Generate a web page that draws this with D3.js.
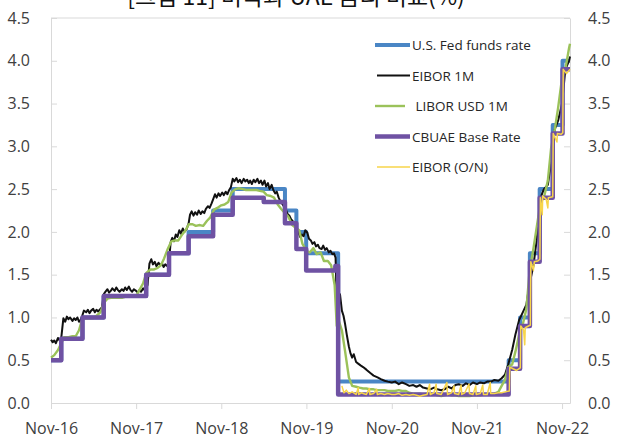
<!DOCTYPE html>
<html>
<head>
<meta charset="utf-8">
<script src="https://cdn.jsdelivr.net/npm/d3@7"></script>
<style>
  body { margin: 0; background: #fff; }
  svg { display: block; }
  .axis text { font-family: "Open Sans", "Noto Sans", sans-serif; font-size: 16px; fill: #404040; }
  .axis line, .axis path { stroke: #d9d9d9; }
</style>
</head>
<body>
<div id="chart"></div>
<script>
// Chart title (cut off at the top in the source picture)
var title = "[그림 11] 미국과 UAE 금리 비교(%)";

// Axis ticks
var yTicks = [0, 0.5, 1, 1.5, 2, 2.5, 3, 3.5, 4, 4.5];
var xTicks = ["2016-11-01", "2017-11-01", "2018-11-01", "2019-11-01", "2020-11-01", "2021-11-01", "2022-11-01"];

// Series names, in legend order
var seriesNames = ["U.S. Fed funds rate", "EIBOR 1M", " LIBOR USD 1M", "CBUAE Base Rate", "EIBOR (O/N)"];

// U.S. Fed funds rate (upper bound), step changes
var fedFunds = [
  ["2016-11-01", 0.50], ["2016-12-15", 0.75], ["2017-03-16", 1.00], ["2017-06-15", 1.25],
  ["2017-12-14", 1.50], ["2018-03-22", 1.75], ["2018-06-14", 2.00], ["2018-09-27", 2.25],
  ["2018-12-20", 2.50], ["2019-08-01", 2.25], ["2019-09-19", 2.00], ["2019-10-31", 1.75],
  ["2020-03-16", 0.25], ["2022-03-17", 0.50], ["2022-05-05", 1.00], ["2022-06-16", 1.75],
  ["2022-07-28", 2.50], ["2022-09-22", 3.25], ["2022-11-03", 4.00], ["2022-12-05", 4.00]
];

// CBUAE base rate, step changes
var cbuaeBase = [
  ["2016-11-01", 0.50], ["2016-12-15", 0.75], ["2017-03-16", 1.00], ["2017-06-15", 1.25],
  ["2017-12-14", 1.50], ["2018-03-22", 1.75], ["2018-06-14", 1.95], ["2018-09-27", 2.20],
  ["2018-12-20", 2.40], ["2019-05-02", 2.35], ["2019-08-01", 2.10], ["2019-09-19", 1.80],
  ["2019-10-31", 1.55], ["2020-03-04", 1.60], ["2020-03-16", 0.10], ["2022-03-17", 0.40],
  ["2022-05-05", 0.90], ["2022-06-16", 1.65], ["2022-07-28", 2.40], ["2022-09-22", 3.15],
  ["2022-11-03", 3.90], ["2022-12-05", 3.90]
];

// EIBOR 1M
var eibor1m = [
  ["2016-11-01", 0.74], ["2016-11-08", 0.71], ["2016-11-15", 0.73], ["2016-11-22", 0.70], ["2016-12-01", 0.76],
  ["2016-12-08", 0.73], ["2016-12-15", 0.76], ["2016-12-24", 0.99], ["2017-01-01", 0.95], ["2017-01-08", 1.01],
  ["2017-01-15", 0.98], ["2017-01-22", 1.00], ["2017-02-01", 0.96], ["2017-02-08", 0.99], ["2017-02-15", 0.97],
  ["2017-02-22", 1.00], ["2017-03-01", 0.95], ["2017-03-08", 0.97], ["2017-03-15", 1.02], ["2017-03-22", 1.08],
  ["2017-04-01", 1.06], ["2017-04-08", 1.09], ["2017-04-15", 1.05], ["2017-04-22", 1.08], ["2017-05-01", 1.10],
  ["2017-05-08", 1.06], ["2017-05-15", 1.09], ["2017-05-22", 1.07], ["2017-06-01", 1.10], ["2017-06-08", 1.12],
  ["2017-06-15", 1.27], ["2017-06-22", 1.30], ["2017-07-01", 1.33], ["2017-07-08", 1.29], ["2017-07-15", 1.31],
  ["2017-07-22", 1.34], ["2017-08-01", 1.31], ["2017-08-08", 1.35], ["2017-08-15", 1.32], ["2017-08-22", 1.30],
  ["2017-09-01", 1.33], ["2017-09-08", 1.31], ["2017-09-15", 1.35], ["2017-09-22", 1.32], ["2017-10-01", 1.36],
  ["2017-10-08", 1.32], ["2017-10-15", 1.30], ["2017-10-22", 1.33], ["2017-11-01", 1.31], ["2017-11-08", 1.29],
  ["2017-11-15", 1.32], ["2017-11-22", 1.30], ["2017-12-01", 1.34], ["2017-12-10", 1.31], ["2017-12-20", 1.38],
  ["2017-12-28", 1.63], ["2018-01-05", 1.68], ["2018-01-12", 1.62], ["2018-01-20", 1.65], ["2018-01-27", 1.60],
  ["2018-02-05", 1.64], ["2018-02-12", 1.61], ["2018-02-20", 1.63], ["2018-02-27", 1.59], ["2018-03-06", 1.62],
  ["2018-03-14", 1.60], ["2018-03-22", 1.66], ["2018-03-29", 1.88], ["2018-04-05", 1.93], ["2018-04-12", 1.89],
  ["2018-04-20", 1.97], ["2018-04-27", 1.94], ["2018-05-05", 2.02], ["2018-05-12", 1.98], ["2018-05-20", 2.04],
  ["2018-05-27", 2.00], ["2018-06-05", 2.03], ["2018-06-14", 2.10], ["2018-06-20", 2.20], ["2018-06-27", 2.24],
  ["2018-07-05", 2.19], ["2018-07-12", 2.23], ["2018-07-20", 2.20], ["2018-07-27", 2.25], ["2018-08-05", 2.21],
  ["2018-08-12", 2.24], ["2018-08-20", 2.22], ["2018-08-27", 2.27], ["2018-09-05", 2.30], ["2018-09-12", 2.28],
  ["2018-09-20", 2.33], ["2018-09-27", 2.38], ["2018-10-05", 2.44], ["2018-10-12", 2.40], ["2018-10-20", 2.45],
  ["2018-10-27", 2.42], ["2018-11-05", 2.46], ["2018-11-12", 2.43], ["2018-11-20", 2.47], ["2018-11-27", 2.44],
  ["2018-12-05", 2.49], ["2018-12-12", 2.52], ["2018-12-20", 2.62], ["2018-12-27", 2.59], ["2019-01-05", 2.63],
  ["2019-01-12", 2.58], ["2019-01-20", 2.61], ["2019-01-27", 2.57], ["2019-02-05", 2.62], ["2019-02-12", 2.59],
  ["2019-02-20", 2.61], ["2019-02-27", 2.57], ["2019-03-05", 2.60], ["2019-03-12", 2.56], ["2019-03-20", 2.61],
  ["2019-03-27", 2.58], ["2019-04-05", 2.62], ["2019-04-12", 2.57], ["2019-04-20", 2.60], ["2019-04-27", 2.55],
  ["2019-05-05", 2.60], ["2019-05-12", 2.53], ["2019-05-20", 2.57], ["2019-05-27", 2.50], ["2019-06-05", 2.55],
  ["2019-06-12", 2.49], ["2019-06-20", 2.45], ["2019-06-27", 2.47], ["2019-07-05", 2.40], ["2019-07-12", 2.36],
  ["2019-07-20", 2.33], ["2019-07-27", 2.30], ["2019-08-05", 2.26], ["2019-08-12", 2.21], ["2019-08-20", 2.19],
  ["2019-08-27", 2.15], ["2019-09-05", 2.12], ["2019-09-12", 2.08], ["2019-09-20", 2.06], ["2019-09-27", 2.00],
  ["2019-10-05", 1.94], ["2019-10-12", 1.97], ["2019-10-20", 1.95], ["2019-10-27", 2.02], ["2019-11-05", 1.99],
  ["2019-11-12", 1.92], ["2019-11-20", 1.90], ["2019-11-27", 1.86], ["2019-12-05", 1.88], ["2019-12-12", 1.83],
  ["2019-12-20", 1.85], ["2019-12-27", 1.81], ["2020-01-05", 1.80], ["2020-01-12", 1.84], ["2020-01-20", 1.79],
  ["2020-01-27", 1.81], ["2020-02-05", 1.76], ["2020-02-12", 1.78], ["2020-02-20", 1.74], ["2020-02-27", 1.75],
  ["2020-03-05", 1.70], ["2020-03-10", 1.14], ["2020-03-16", 1.10], ["2020-03-24", 1.27], ["2020-04-01", 1.08],
  ["2020-04-08", 1.02], ["2020-04-15", 0.92], ["2020-04-22", 0.80], ["2020-05-01", 0.66], ["2020-05-08", 0.58],
  ["2020-05-15", 0.53], ["2020-05-22", 0.57], ["2020-06-01", 0.48], ["2020-06-10", 0.46], ["2020-06-20", 0.44],
  ["2020-07-01", 0.42], ["2020-07-15", 0.39], ["2020-08-01", 0.35], ["2020-08-15", 0.32], ["2020-09-01", 0.30],
  ["2020-09-15", 0.28], ["2020-10-01", 0.26], ["2020-10-15", 0.25], ["2020-11-01", 0.24], ["2020-11-15", 0.25],
  ["2020-12-01", 0.22], ["2020-12-15", 0.24], ["2021-01-01", 0.22], ["2021-01-15", 0.20], ["2021-02-01", 0.21],
  ["2021-02-15", 0.19], ["2021-03-01", 0.21], ["2021-03-15", 0.18], ["2021-04-01", 0.17], ["2021-04-15", 0.16],
  ["2021-05-01", 0.18], ["2021-05-15", 0.16], ["2021-06-01", 0.15], ["2021-06-15", 0.16], ["2021-07-01", 0.19],
  ["2021-07-15", 0.17], ["2021-08-01", 0.21], ["2021-08-15", 0.22], ["2021-09-01", 0.20], ["2021-09-15", 0.23],
  ["2021-10-01", 0.21], ["2021-10-15", 0.24], ["2021-11-01", 0.22], ["2021-11-15", 0.24], ["2021-12-01", 0.23],
  ["2021-12-15", 0.25], ["2022-01-01", 0.25], ["2022-01-15", 0.27], ["2022-02-01", 0.26], ["2022-02-15", 0.29],
  ["2022-03-01", 0.33], ["2022-03-15", 0.45], ["2022-04-01", 0.62], ["2022-04-15", 0.80], ["2022-05-01", 0.97],
  ["2022-05-15", 1.05], ["2022-06-01", 1.15], ["2022-06-15", 1.40], ["2022-07-01", 1.60], ["2022-07-15", 1.90],
  ["2022-08-01", 2.40], ["2022-08-15", 2.50], ["2022-09-01", 2.55], ["2022-09-15", 2.80], ["2022-10-01", 3.20],
  ["2022-10-15", 3.30], ["2022-11-01", 3.50], ["2022-11-15", 3.90], ["2022-12-01", 4.00], ["2022-12-05", 4.05]
];

// LIBOR USD 1M
var libor1m = [
  ["2016-11-01", 0.53], ["2016-11-15", 0.56], ["2016-12-01", 0.62], ["2016-12-15", 0.70], ["2016-12-28", 0.77],
  ["2017-01-15", 0.77], ["2017-02-01", 0.78], ["2017-02-15", 0.78], ["2017-03-01", 0.85], ["2017-03-15", 0.98],
  ["2017-04-01", 0.99], ["2017-04-15", 0.99], ["2017-05-01", 0.99], ["2017-05-15", 1.02], ["2017-06-01", 1.06],
  ["2017-06-15", 1.17], ["2017-07-01", 1.22], ["2017-07-15", 1.23], ["2017-08-01", 1.23], ["2017-08-15", 1.23],
  ["2017-09-01", 1.23], ["2017-09-15", 1.24], ["2017-10-01", 1.24], ["2017-10-15", 1.24], ["2017-11-01", 1.25],
  ["2017-11-15", 1.32], ["2017-12-01", 1.40], ["2017-12-15", 1.52], ["2018-01-01", 1.56], ["2018-01-15", 1.56],
  ["2018-02-01", 1.58], ["2018-02-15", 1.61], ["2018-03-01", 1.69], ["2018-03-15", 1.79], ["2018-04-01", 1.89],
  ["2018-04-15", 1.90], ["2018-05-01", 1.90], ["2018-05-15", 1.96], ["2018-06-01", 2.02], ["2018-06-15", 2.09],
  ["2018-07-01", 2.09], ["2018-07-15", 2.07], ["2018-08-01", 2.08], ["2018-08-15", 2.07], ["2018-09-01", 2.13],
  ["2018-09-15", 2.17], ["2018-10-01", 2.26], ["2018-10-15", 2.28], ["2018-11-01", 2.31], ["2018-11-15", 2.32],
  ["2018-12-01", 2.35], ["2018-12-15", 2.46], ["2019-01-01", 2.50], ["2019-01-15", 2.51], ["2019-02-01", 2.50],
  ["2019-02-15", 2.49], ["2019-03-01", 2.49], ["2019-03-15", 2.49], ["2019-04-01", 2.49], ["2019-04-15", 2.48],
  ["2019-05-01", 2.47], ["2019-05-15", 2.43], ["2019-06-01", 2.42], ["2019-06-15", 2.40], ["2019-07-01", 2.32],
  ["2019-07-15", 2.27], ["2019-08-01", 2.22], ["2019-08-15", 2.18], ["2019-09-01", 2.08], ["2019-09-15", 2.05],
  ["2019-10-01", 2.02], ["2019-10-15", 1.86], ["2019-11-01", 1.78], ["2019-11-15", 1.76], ["2019-12-01", 1.81],
  ["2019-12-15", 1.74], ["2020-01-01", 1.76], ["2020-01-15", 1.66], ["2020-02-01", 1.66], ["2020-02-15", 1.61],
  ["2020-03-01", 1.38], ["2020-03-10", 0.90], ["2020-03-20", 0.95], ["2020-04-01", 0.85], ["2020-04-15", 0.60],
  ["2020-05-01", 0.30], ["2020-05-15", 0.20], ["2020-06-01", 0.19], ["2020-06-15", 0.18], ["2020-07-01", 0.17],
  ["2020-07-15", 0.17], ["2020-08-01", 0.16], ["2020-08-15", 0.16], ["2020-09-01", 0.15], ["2020-09-15", 0.15],
  ["2020-10-01", 0.15], ["2020-10-15", 0.14], ["2020-11-01", 0.14], ["2020-11-15", 0.14], ["2020-12-01", 0.15],
  ["2020-12-15", 0.14], ["2021-01-01", 0.14], ["2021-01-15", 0.12], ["2021-02-01", 0.11], ["2021-02-15", 0.11],
  ["2021-03-01", 0.11], ["2021-03-15", 0.10], ["2021-04-01", 0.11], ["2021-04-15", 0.11], ["2021-05-01", 0.10],
  ["2021-05-15", 0.09], ["2021-06-01", 0.08], ["2021-06-15", 0.09], ["2021-07-01", 0.10], ["2021-07-15", 0.09],
  ["2021-08-01", 0.09], ["2021-08-15", 0.08], ["2021-09-01", 0.08], ["2021-09-15", 0.08], ["2021-10-01", 0.08],
  ["2021-10-15", 0.09], ["2021-11-01", 0.09], ["2021-11-15", 0.09], ["2021-12-01", 0.10], ["2021-12-15", 0.10],
  ["2022-01-01", 0.10], ["2022-01-15", 0.11], ["2022-02-01", 0.13], ["2022-02-15", 0.20], ["2022-03-01", 0.27],
  ["2022-03-15", 0.42], ["2022-04-01", 0.45], ["2022-04-15", 0.60], ["2022-05-01", 0.80], ["2022-05-15", 0.90],
  ["2022-06-01", 1.10], ["2022-06-15", 1.55], ["2022-07-01", 1.80], ["2022-07-15", 2.05], ["2022-08-01", 2.35],
  ["2022-08-15", 2.40], ["2022-09-01", 2.60], ["2022-09-15", 2.98], ["2022-10-01", 3.20], ["2022-10-15", 3.45],
  ["2022-11-01", 3.80], ["2022-11-15", 3.90], ["2022-12-01", 4.15], ["2022-12-05", 4.20]
];

// EIBOR overnight
var eiborON = [
  ["2020-04-01", 0.20], ["2020-04-10", 0.12], ["2020-04-20", 0.15], ["2020-05-01", 0.11], ["2020-05-15", 0.13],
  ["2020-06-01", 0.10], ["2020-06-10", 0.18], ["2020-06-12", 0.10], ["2020-06-25", 0.12], ["2020-07-01", 0.11],
  ["2020-07-15", 0.10], ["2020-07-28", 0.17], ["2020-07-30", 0.10], ["2020-08-15", 0.11], ["2020-08-28", 0.16],
  ["2020-08-31", 0.10], ["2020-09-15", 0.11], ["2020-10-01", 0.10], ["2020-10-15", 0.11], ["2020-11-01", 0.10],
  ["2020-11-15", 0.10], ["2020-12-01", 0.11], ["2020-12-15", 0.09], ["2021-01-01", 0.10], ["2021-01-15", 0.09],
  ["2021-02-01", 0.10], ["2021-02-15", 0.09], ["2021-03-01", 0.08], ["2021-03-15", 0.09], ["2021-04-01", 0.10],
  ["2021-04-12", 0.22], ["2021-04-15", 0.10], ["2021-05-01", 0.12], ["2021-05-10", 0.22], ["2021-05-13", 0.11],
  ["2021-06-01", 0.10], ["2021-06-25", 0.24], ["2021-06-28", 0.10], ["2021-07-15", 0.12], ["2021-07-26", 0.20],
  ["2021-07-28", 0.11], ["2021-08-15", 0.10], ["2021-08-25", 0.21], ["2021-08-28", 0.10], ["2021-09-10", 0.12],
  ["2021-09-28", 0.22], ["2021-09-30", 0.11], ["2021-10-15", 0.10], ["2021-10-27", 0.20], ["2021-10-29", 0.10],
  ["2021-11-15", 0.11], ["2021-11-26", 0.21], ["2021-11-29", 0.10], ["2021-12-15", 0.10], ["2021-12-28", 0.24],
  ["2021-12-30", 0.11], ["2022-01-15", 0.11], ["2022-02-01", 0.12], ["2022-02-15", 0.12], ["2022-03-01", 0.13],
  ["2022-03-20", 0.14], ["2022-03-22", 0.42], ["2022-04-05", 0.40], ["2022-04-20", 0.38], ["2022-05-06", 0.41],
  ["2022-05-08", 0.90], ["2022-05-20", 0.85], ["2022-05-25", 0.68], ["2022-05-27", 0.88], ["2022-06-10", 0.90],
  ["2022-06-18", 0.91], ["2022-06-20", 1.65], ["2022-07-01", 1.55], ["2022-07-05", 1.65], ["2022-07-20", 1.66],
  ["2022-07-29", 1.68], ["2022-07-31", 2.40], ["2022-08-08", 2.20], ["2022-08-10", 2.42], ["2022-08-25", 2.38],
  ["2022-09-01", 2.28], ["2022-09-03", 2.40], ["2022-09-22", 2.41], ["2022-09-24", 3.15], ["2022-10-10", 3.05],
  ["2022-10-12", 3.15], ["2022-10-28", 3.14], ["2022-11-04", 3.16], ["2022-11-06", 3.90], ["2022-11-20", 3.85],
  ["2022-12-05", 3.90]
];

var W = 617, H = 439;
var margin = {top: 18, right: 47, bottom: 36, left: 51};
var parse = d3.timeParse("%Y-%m-%d");

var svg = d3.select("#chart").append("svg")
  .attr("width", W)
  .attr("height", H);

// Title, only its lower edge shows in the source
svg.append("text")
  .attr("x", 296)
  .attr("y", 5)
  .attr("text-anchor", "middle")
  .style("font-family", "'Noto Sans CJK KR', sans-serif")
  .style("font-size", "23px")
  .style("fill", "#111")
  .text(title);

var x = d3.scaleTime()
  .domain([parse("2016-11-01"), parse("2022-12-05")])
  .range([margin.left, W - margin.right]);

var y = d3.scaleLinear()
  .domain([0, 4.5])
  .range([H - margin.bottom, margin.top]);

// Frame: top line
svg.append("line")
  .attr("x1", margin.left).attr("x2", W - margin.right)
  .attr("y1", margin.top).attr("y2", margin.top)
  .attr("stroke", "#d9d9d9");

// Axes
svg.append("g")
  .attr("class", "axis")
  .attr("transform", "translate(" + margin.left + ",0)")
  .call(d3.axisLeft(y).tickValues(yTicks).tickFormat(d3.format(".1f")).tickSize(-6).tickSizeOuter(0).tickPadding(21));

svg.append("g")
  .attr("class", "axis")
  .attr("transform", "translate(" + (W - margin.right) + ",0)")
  .call(d3.axisRight(y).tickValues(yTicks).tickFormat(d3.format(".1f")).tickSize(-6).tickSizeOuter(0).tickPadding(18));

svg.append("g")
  .attr("class", "axis")
  .attr("transform", "translate(0," + (H - margin.bottom) + ")")
  .call(d3.axisBottom(x).tickValues(xTicks.map(parse)).tickFormat(d3.timeFormat("%b-%y")).tickSize(6).tickSizeOuter(0).tickPadding(14));

var line = d3.line()
  .x(function(d) { return x(parse(d[0])); })
  .y(function(d) { return y(d[1]); });

var stepLine = d3.line()
  .curve(d3.curveStepAfter)
  .x(function(d) { return x(parse(d[0])); })
  .y(function(d) { return y(d[1]); });

var series = [
  {data: fedFunds, gen: stepLine, color: "#4a86c5", width: 4},
  {data: eibor1m, gen: line, color: "#111111", width: 2},
  {data: libor1m, gen: line, color: "#9bc25a", width: 2.4},
  {data: cbuaeBase, gen: stepLine, color: "#6f52a3", width: 4.5},
  {data: eiborON, gen: line, color: "#f7d54a", width: 1.5}
];

series.forEach(function(s) {
  svg.append("path")
    .datum(s.data)
    .attr("fill", "none")
    .attr("stroke", s.color)
    .attr("stroke-width", s.width)
    .attr("stroke-linejoin", "round")
    .attr("d", s.gen);
});

// Legend
var legendX = [[375, 410], [377, 410], [375, 405], [375, 410], [377, 410]];
series.forEach(function(s, i) {
  var ly = 45 + i * 30.5;
  svg.append("line")
    .attr("x1", legendX[i][0]).attr("x2", legendX[i][1])
    .attr("y1", ly).attr("y2", ly)
    .attr("stroke", s.color)
    .attr("stroke-width", s.width);
  svg.append("text")
    .attr("x", 412)
    .attr("y", ly + 5)
    .attr("xml:space", "preserve")
    .style("white-space", "pre")
    .style("font-family", "'Open Sans', 'Noto Sans', sans-serif")
    .style("font-size", "13.5px")
    .style("fill", "#262626")
    .text(seriesNames[i]);
});
</script>
</body>
</html>
